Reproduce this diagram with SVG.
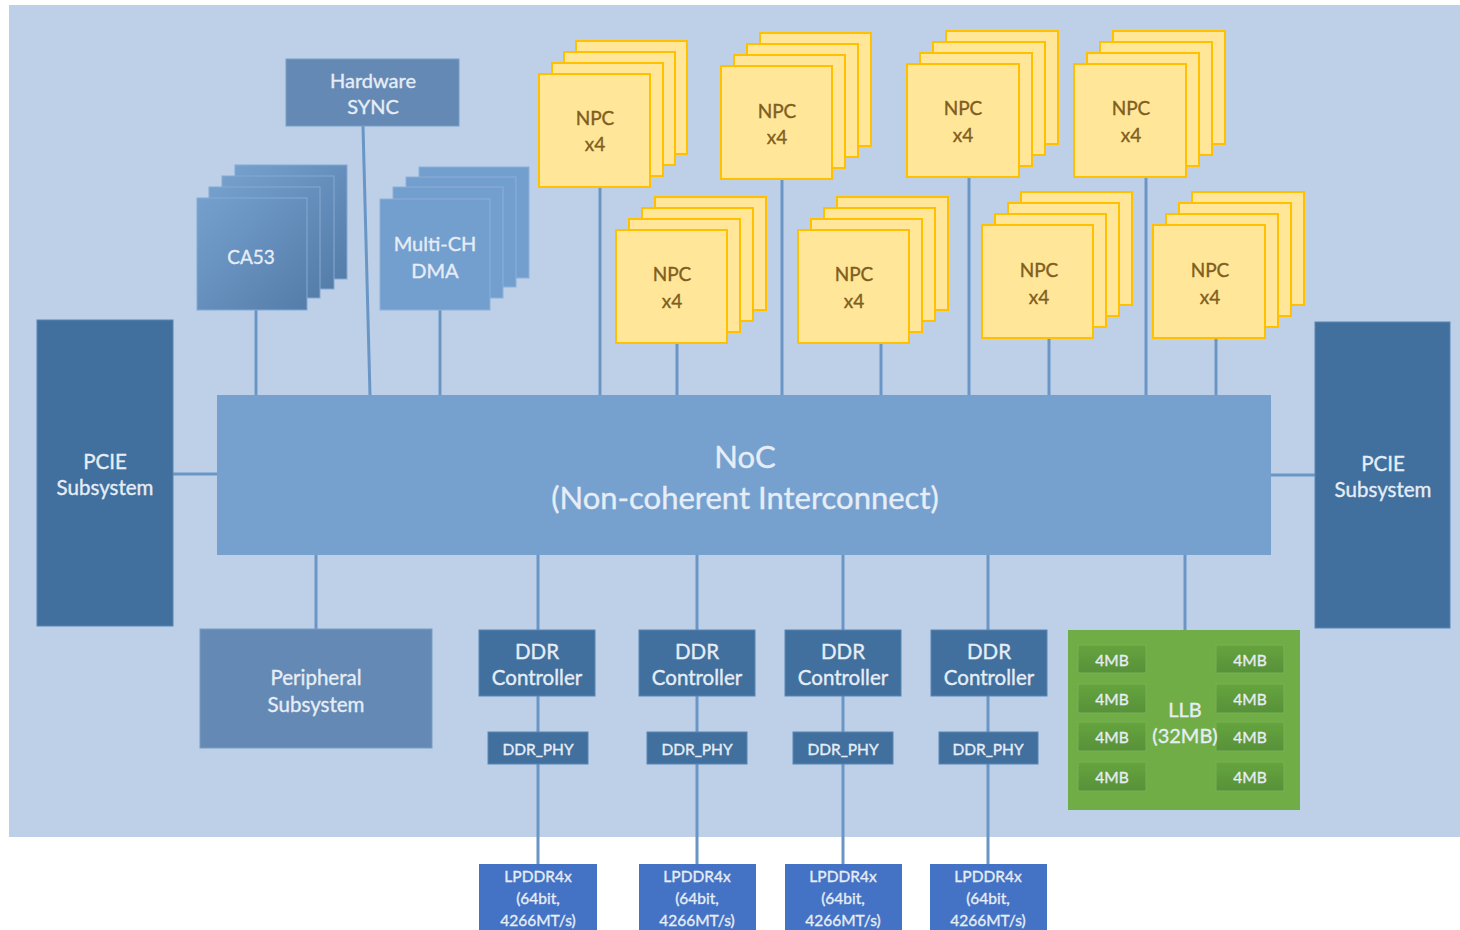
<svg xmlns="http://www.w3.org/2000/svg" width="1460" height="930" viewBox="0 0 1460 930">
<defs>
<linearGradient id="gCa" x1="0" y1="0" x2="1" y2="1">
<stop offset="0" stop-color="#75A0CE"/>
<stop offset="1" stop-color="#557DAA"/>
</linearGradient>
<linearGradient id="gMb" x1="0" y1="0" x2="0" y2="1">
<stop offset="0" stop-color="#66A43E"/>
<stop offset="1" stop-color="#57913A"/>
</linearGradient>
</defs>
<style>
text{font-family:Lato,"Open Sans","Liberation Sans",sans-serif;text-anchor:middle;dominant-baseline:central;stroke-width:0.35}
.lt{fill:#E6EDF6;stroke:#E6EDF6}
.npc rect{fill:#FFE699;stroke:#FFC000;stroke-width:2}
.npc text{fill:#7F5F1E;stroke:#7F5F1E;font-size:19px}
.ca rect{fill:url(#gCa);stroke:#86A9D2;stroke-width:1}
.dma rect{fill:#739FCF;stroke:#8DB0D8;stroke-width:1}
.dark{fill:#41709E;stroke:#5A86B3;stroke-width:1}
.mid{fill:#6489B4;stroke:#7B9DC4;stroke-width:1}
.lp{fill:#4472C4}
.mb{fill:url(#gMb);stroke:#78B252;stroke-width:1}
.con line{stroke:#6A96C6;stroke-width:3;fill:none}
</style>
<rect x="9" y="5" width="1451" height="832" fill="#BDD0E8"/>

<g class="con" id="connectors">
<line x1="363" y1="126" x2="370" y2="395"/>
<line x1="256" y1="310" x2="256" y2="395"/>
<line x1="440" y1="310" x2="440" y2="395"/>
<line x1="600" y1="187" x2="600" y2="395"/>
<line x1="782" y1="179" x2="782" y2="395"/>
<line x1="969" y1="177" x2="969" y2="395"/>
<line x1="1146" y1="177" x2="1146" y2="395"/>
<line x1="677" y1="343" x2="677" y2="395"/>
<line x1="881" y1="343" x2="881" y2="395"/>
<line x1="1049" y1="338" x2="1049" y2="395"/>
<line x1="1216" y1="338" x2="1216" y2="395"/>
<line x1="173" y1="474" x2="217" y2="474"/>
<line x1="1271" y1="475" x2="1315" y2="475"/>
<line x1="316" y1="555" x2="316" y2="629"/>
<line x1="538" y1="555" x2="538" y2="865"/>
<line x1="697" y1="555" x2="697" y2="865"/>
<line x1="843" y1="555" x2="843" y2="865"/>
<line x1="988" y1="555" x2="988" y2="865"/>
<line x1="1185" y1="555" x2="1185" y2="630"/>
</g>

<g id="hw-sync">
<rect class="mid" x="286" y="59" width="173" height="67"/>
<text class="lt" x="373" y="80" font-size="20">Hardware</text>
<text class="lt" x="373" y="106" font-size="20">SYNC</text>
</g>

<g id="ca53" class="ca">
<rect x="235" y="165" width="112" height="114"/>
<rect x="222" y="176" width="112" height="113"/>
<rect x="209" y="187" width="111" height="111"/>
<rect x="197" y="198" width="110" height="112"/>
<text class="lt" x="251" y="256" font-size="19">CA53</text>
</g>

<g id="dma" class="dma">
<rect x="419" y="167" width="110" height="111"/>
<rect x="406" y="177" width="110" height="110"/>
<rect x="393" y="187" width="110" height="111"/>
<rect x="380" y="199" width="110" height="111"/>
<text class="lt" x="435" y="243" font-size="20">Multi-CH</text>
<text class="lt" x="435" y="270" font-size="20">DMA</text>
</g>

<g id="npc1" class="npc">
<rect x="576" y="41" width="111" height="113"/>
<rect x="564" y="52" width="111" height="113"/>
<rect x="552" y="63" width="111" height="113"/>
<rect x="539" y="74" width="111" height="113"/>
<text x="595" y="117">NPC</text><text x="595" y="143">x4</text>
</g>
<g id="npc2" class="npc">
<rect x="760" y="33" width="111" height="113"/>
<rect x="747" y="44" width="111" height="113"/>
<rect x="734" y="55" width="111" height="113"/>
<rect x="721" y="66" width="111" height="113"/>
<text x="777" y="110">NPC</text><text x="777" y="136">x4</text>
</g>
<g id="npc3" class="npc">
<rect x="946" y="31" width="112" height="113"/>
<rect x="933" y="42" width="112" height="113"/>
<rect x="920" y="53" width="112" height="113"/>
<rect x="907" y="64" width="112" height="113"/>
<text x="963" y="107">NPC</text><text x="963" y="134">x4</text>
</g>
<g id="npc4" class="npc">
<rect x="1113" y="31" width="112" height="113"/>
<rect x="1100" y="42" width="112" height="113"/>
<rect x="1087" y="53" width="112" height="113"/>
<rect x="1074" y="64" width="112" height="113"/>
<text x="1131" y="107">NPC</text><text x="1131" y="134">x4</text>
</g>
<g id="npc5" class="npc">
<rect x="655" y="197" width="111" height="113"/>
<rect x="642" y="208" width="111" height="113"/>
<rect x="629" y="219" width="111" height="113"/>
<rect x="616" y="230" width="111" height="113"/>
<text x="672" y="273">NPC</text><text x="672" y="300">x4</text>
</g>
<g id="npc6" class="npc">
<rect x="837" y="197" width="111" height="113"/>
<rect x="824" y="208" width="111" height="113"/>
<rect x="811" y="219" width="111" height="113"/>
<rect x="798" y="230" width="111" height="113"/>
<text x="854" y="273">NPC</text><text x="854" y="300">x4</text>
</g>
<g id="npc7" class="npc">
<rect x="1021" y="192" width="111" height="113"/>
<rect x="1008" y="203" width="111" height="113"/>
<rect x="995" y="214" width="111" height="113"/>
<rect x="982" y="225" width="111" height="113"/>
<text x="1039" y="269">NPC</text><text x="1039" y="296">x4</text>
</g>
<g id="npc8" class="npc">
<rect x="1192" y="192" width="112" height="113"/>
<rect x="1179" y="203" width="112" height="113"/>
<rect x="1166" y="214" width="112" height="113"/>
<rect x="1153" y="225" width="112" height="113"/>
<text x="1210" y="269">NPC</text><text x="1210" y="296">x4</text>
</g>

<g id="noc">
<rect x="217" y="395" width="1054" height="160" fill="#76A1CF"/>
<text class="lt" x="745" y="456" font-size="31">NoC</text>
<text class="lt" x="745" y="497" font-size="31">(Non-coherent Interconnect)</text>
</g>

<g id="pcie-left">
<rect class="dark" x="37" y="320" width="136" height="306"/>
<text class="lt" x="105" y="461" font-size="20.5">PCIE</text>
<text class="lt" x="105" y="487" font-size="20.5">Subsystem</text>
</g>
<g id="pcie-right">
<rect class="dark" x="1315" y="322" width="135" height="306"/>
<text class="lt" x="1383" y="463" font-size="20.5">PCIE</text>
<text class="lt" x="1383" y="489" font-size="20.5">Subsystem</text>
</g>

<g id="peripheral">
<rect class="mid" x="200" y="629" width="232" height="119"/>
<text class="lt" x="316" y="677" font-size="20.5">Peripheral</text>
<text class="lt" x="316" y="704" font-size="20.5">Subsystem</text>
</g>

<g id="ddrc1"><rect class="dark" x="479" y="630" width="116" height="66"/><text class="lt" x="537" y="651" font-size="20.5">DDR</text><text class="lt" x="537" y="677" font-size="20.5">Controller</text></g>
<g id="ddrc2"><rect class="dark" x="639" y="630" width="116" height="66"/><text class="lt" x="697" y="651" font-size="20.5">DDR</text><text class="lt" x="697" y="677" font-size="20.5">Controller</text></g>
<g id="ddrc3"><rect class="dark" x="785" y="630" width="116" height="66"/><text class="lt" x="843" y="651" font-size="20.5">DDR</text><text class="lt" x="843" y="677" font-size="20.5">Controller</text></g>
<g id="ddrc4"><rect class="dark" x="931" y="630" width="116" height="66"/><text class="lt" x="989" y="651" font-size="20.5">DDR</text><text class="lt" x="989" y="677" font-size="20.5">Controller</text></g>

<g id="phy1"><rect class="dark" x="488" y="732" width="100" height="32"/><text class="lt" x="538" y="749" font-size="15.5">DDR_PHY</text></g>
<g id="phy2"><rect class="dark" x="647" y="732" width="100" height="32"/><text class="lt" x="697" y="749" font-size="15.5">DDR_PHY</text></g>
<g id="phy3"><rect class="dark" x="793" y="732" width="100" height="32"/><text class="lt" x="843" y="749" font-size="15.5">DDR_PHY</text></g>
<g id="phy4"><rect class="dark" x="939" y="732" width="99" height="32"/><text class="lt" x="988" y="749" font-size="15.5">DDR_PHY</text></g>

<g id="lp1"><rect class="lp" x="479" y="864" width="118" height="70"/><text class="lt" x="538" y="876" font-size="15.5">LPDDR4x</text><text class="lt" x="538" y="898" font-size="15.5">(64bit,</text><text class="lt" x="538" y="920" font-size="15.5">4266MT/s)</text></g>
<g id="lp2"><rect class="lp" x="639" y="864" width="117" height="70"/><text class="lt" x="697" y="876" font-size="15.5">LPDDR4x</text><text class="lt" x="697" y="898" font-size="15.5">(64bit,</text><text class="lt" x="697" y="920" font-size="15.5">4266MT/s)</text></g>
<g id="lp3"><rect class="lp" x="785" y="864" width="117" height="70"/><text class="lt" x="843" y="876" font-size="15.5">LPDDR4x</text><text class="lt" x="843" y="898" font-size="15.5">(64bit,</text><text class="lt" x="843" y="920" font-size="15.5">4266MT/s)</text></g>
<g id="lp4"><rect class="lp" x="930" y="864" width="117" height="70"/><text class="lt" x="988" y="876" font-size="15.5">LPDDR4x</text><text class="lt" x="988" y="898" font-size="15.5">(64bit,</text><text class="lt" x="988" y="920" font-size="15.5">4266MT/s)</text></g>

<g id="llb">
<rect x="1068" y="630" width="232" height="180" fill="#70AD47"/>
<rect class="mb" x="1078" y="645" width="68" height="28"/>
<rect class="mb" x="1078" y="684" width="68" height="29"/>
<rect class="mb" x="1078" y="722" width="68" height="29"/>
<rect class="mb" x="1078" y="762" width="68" height="29"/>
<rect class="mb" x="1216" y="645" width="68" height="28"/>
<rect class="mb" x="1216" y="684" width="68" height="29"/>
<rect class="mb" x="1216" y="722" width="68" height="29"/>
<rect class="mb" x="1216" y="762" width="68" height="29"/>
<g class="lt" font-size="15.5">
<text x="1112" y="660">4MB</text><text x="1112" y="699">4MB</text><text x="1112" y="737">4MB</text><text x="1112" y="777">4MB</text>
<text x="1250" y="660">4MB</text><text x="1250" y="699">4MB</text><text x="1250" y="737">4MB</text><text x="1250" y="777">4MB</text>
</g>
<text class="lt" x="1185" y="709" font-size="20">LLB</text>
<text class="lt" x="1185" y="735" font-size="20">(32MB)</text>
</g>
</svg>
